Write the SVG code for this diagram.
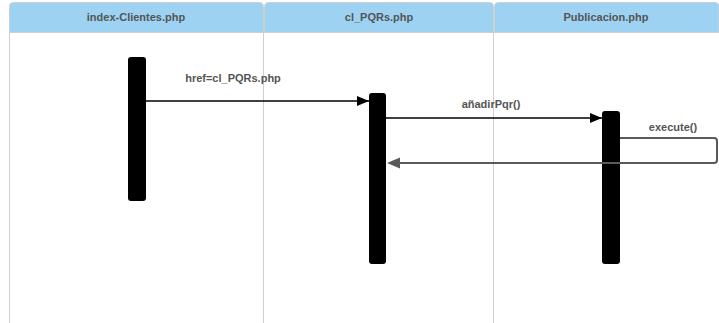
<svg xmlns="http://www.w3.org/2000/svg" width="719" height="323" viewBox="0 0 719 323">
  <defs>
    <marker id="arrowBlack" markerWidth="12" markerHeight="10" refX="12" refY="5" orient="auto" markerUnits="userSpaceOnUse">
      <path d="M0,0 L12,5 L0,10 Z" fill="#000"/>
    </marker>
    <marker id="arrowGray" markerWidth="13" markerHeight="11" refX="0" refY="5.5" orient="auto-start-reverse" markerUnits="userSpaceOnUse">
      <path d="M0,0 L13,5.5 L0,11 Z" fill="#5a5a5a"/>
    </marker>
  </defs>
  <style>
    .lane { fill: #ffffff; stroke: #cfcfcf; stroke-width: 1; }
    .head { fill: #9dd2f2; stroke: #cfcfcf; stroke-width: 1; }
    .title { font-family: "Liberation Sans", Arial, sans-serif; font-size: 11px; font-weight: bold; fill: #555; text-anchor: middle; }
    .label { font-family: "Liberation Sans", Arial, sans-serif; font-size: 11px; font-weight: bold; fill: #555; text-anchor: middle; }
    .bar { fill: #000; }
    .msg { stroke: #000; stroke-width: 1.5; fill: none; }
    .ret { stroke: #5a5a5a; stroke-width: 2; fill: none; }
  </style>
  <rect width="719" height="323" fill="#ffffff"/>

  <!-- swimlanes -->
  <g id="lane-index">
    <path class="lane" d="M9.5,32 V323.5 M263.5,32 V323.5"/>
    <path class="head" d="M9.5,32.5 V6.5 Q9.5,2.5 13.5,2.5 H259.5 Q263.5,2.5 263.5,6.5 V32.5 Z"/>
    <text class="title" x="136" y="21">index-Clientes.php</text>
  </g>
  <g id="lane-clpqrs">
    <path class="lane" d="M493.5,32 V323.5"/>
    <path class="head" d="M264.5,32.5 V6.5 Q264.5,2.5 268.5,2.5 H489.5 Q493.5,2.5 493.5,6.5 V32.5 Z"/>
    <text class="title" x="379" y="21">cl_PQRs.php</text>
  </g>
  <g id="lane-publicacion">
    <path class="head" d="M494.5,32.5 V6.5 Q494.5,2.5 498.5,2.5 H715 Q719,2.5 719,6.5 V32.5 Z"/>
    <text class="title" x="606" y="21">Publicacion.php</text>
  </g>

  <!-- activation bars -->
  <g id="act-index"><rect class="bar" x="128" y="57" width="18" height="144" rx="3"/></g>
  <g id="act-clpqrs"><rect class="bar" x="369" y="93" width="17" height="171" rx="3"/></g>
  <g id="act-publicacion"><rect class="bar" x="602" y="111" width="18" height="153" rx="3"/></g>

  <!-- messages -->
  <g id="connectors">
    <line class="msg" x1="146" y1="101" x2="369" y2="101" marker-end="url(#arrowBlack)"/>
    <text class="label" x="233" y="82">href=cl_PQRs.php</text>

    <line class="msg" x1="386" y1="118" x2="602" y2="118" marker-end="url(#arrowBlack)"/>
    <text class="label" x="491" y="108">añadirPqr()</text>

    <path class="ret" d="M620,138 H714 Q717,138 717,141 V160 Q717,163 714,163 H400" />
    <path d="M387,163 L400,157.5 L400,168.5 Z" fill="#5a5a5a"/>
    <text class="label" x="673" y="131">execute()</text>
  </g>
</svg>
